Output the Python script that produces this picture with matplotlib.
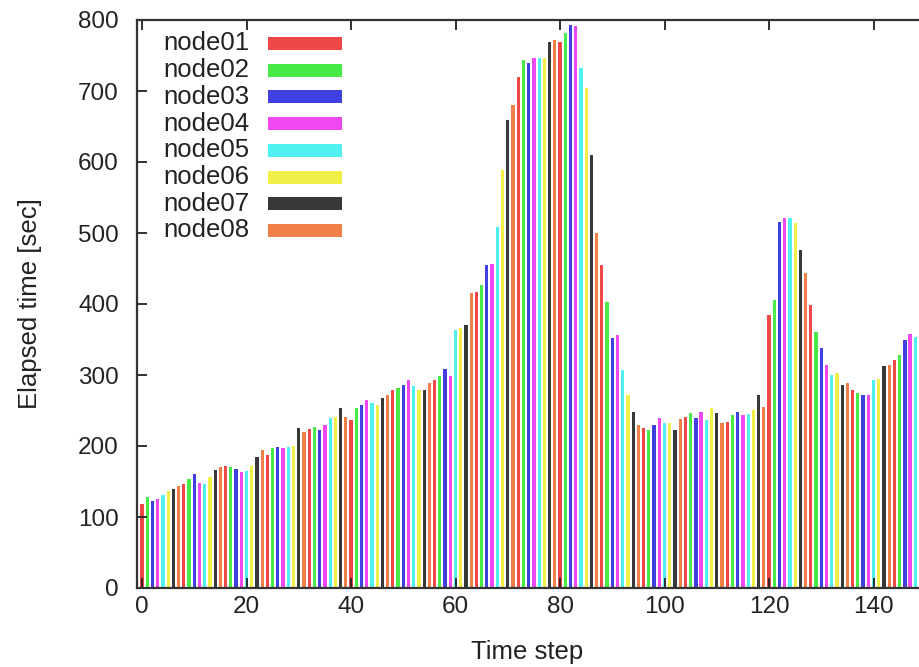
import matplotlib
matplotlib.use("Agg")
import matplotlib.pyplot as plt
from matplotlib.patches import Rectangle

node_names = ["node01", "node02", "node03", "node04",
              "node05", "node06", "node07", "node08"]
node_colors = ["#f04848", "#48ea48", "#4040e0", "#f048f0",
               "#50f0f0", "#f0f048", "#383838", "#f08048"]

elapsed = [
    119, 128, 123, 126, 131, 136, 140, 143,
    146, 153, 161, 148, 146, 157, 166, 171,
    172, 171, 167, 163, 165, 172, 184, 194,
    187, 197, 199, 197, 199, 200, 225, 220,
    224, 227, 222, 230, 239, 241, 253, 241,
    237, 254, 258, 265, 260, 258, 268, 272,
    279, 281, 286, 293, 284, 279, 279, 289,
    293, 298, 309, 298, 363, 366, 370, 415,
    417, 427, 455, 457, 509, 589, 659, 680,
    720, 744, 740, 746, 746, 746, 769, 772,
    769, 781, 793, 791, 732, 704, 610, 500,
    455, 403, 352, 356, 307, 272, 248, 230,
    225, 222, 230, 240, 232, 232, 222, 238,
    241, 246, 239, 248, 237, 253, 246, 232,
    234, 244, 248, 243, 245, 251, 272, 255,
    385, 406, 516, 521, 521, 514, 476, 443,
    399, 361, 338, 314, 300, 303, 286, 289,
    279, 274, 272, 272, 293, 295, 312, 314,
    321, 328, 349, 358, 353,
]
steps = list(range(len(elapsed)))
bar_colors = [node_colors[s % len(node_colors)] for s in steps]

x_ticks = [0, 20, 40, 60, 80, 100, 120, 140]
y_ticks = [0, 100, 200, 300, 400, 500, 600, 700, 800]

plt.rcParams["font.family"] = ["Liberation Sans", "DejaVu Sans"]
FS = 17.5
FS_LABEL = 18.5
TXT = "#222222"

W, H = 919, 667
fig = plt.figure(figsize=(W / 100, H / 100), dpi=100)
left_px, right_px, top_px, bottom_px = 137, 919, 20, 588
ax = fig.add_axes([left_px / W, 1 - bottom_px / H,
                   (right_px - left_px) / W, (bottom_px - top_px) / H])

ax.bar(steps, elapsed, width=0.62, color=bar_colors, linewidth=0)

ax.set_xlim(-0.96, 148.7)
ax.set_ylim(0, 800)
ax.set_xticks(x_ticks)
ax.set_yticks(y_ticks)
ax.tick_params(axis="both", direction="in", length=7, width=1.3,
               labelsize=FS, colors=TXT)
ax.tick_params(axis="x", top=True, pad=6)
ax.tick_params(axis="y", pad=13)
for side in ["left", "bottom", "top"]:
    ax.spines[side].set_linewidth(1.6)
    ax.spines[side].set_color("#333333")
ax.spines["right"].set_visible(False)

# axis titles placed at the reference's pixel positions
fig.text(527 / W, 1 - 652 / H, "Time step", fontsize=FS_LABEL, color=TXT,
         ha="center", va="center")
fig.text(30 / W, 1 - 304 / H, "Elapsed time [sec]", fontsize=FS_LABEL,
         color=TXT, ha="center", va="center", rotation=90)

# gnuplot-style key: right-justified label, then colour sample
for i, (name, col) in enumerate(zip(node_names, node_colors)):
    yc = 43.5 + 26.7 * i
    fig.text(249 / W, 1 - yc / H, name, fontsize=FS_LABEL, color=TXT,
             ha="right", va="center")
    fig.patches.append(Rectangle((268 / W, 1 - (yc + 6.5) / H),
                                 74 / W, 13 / H, transform=fig.transFigure,
                                 facecolor=col, edgecolor="none"))

fig.savefig("out.png", dpi=100)
